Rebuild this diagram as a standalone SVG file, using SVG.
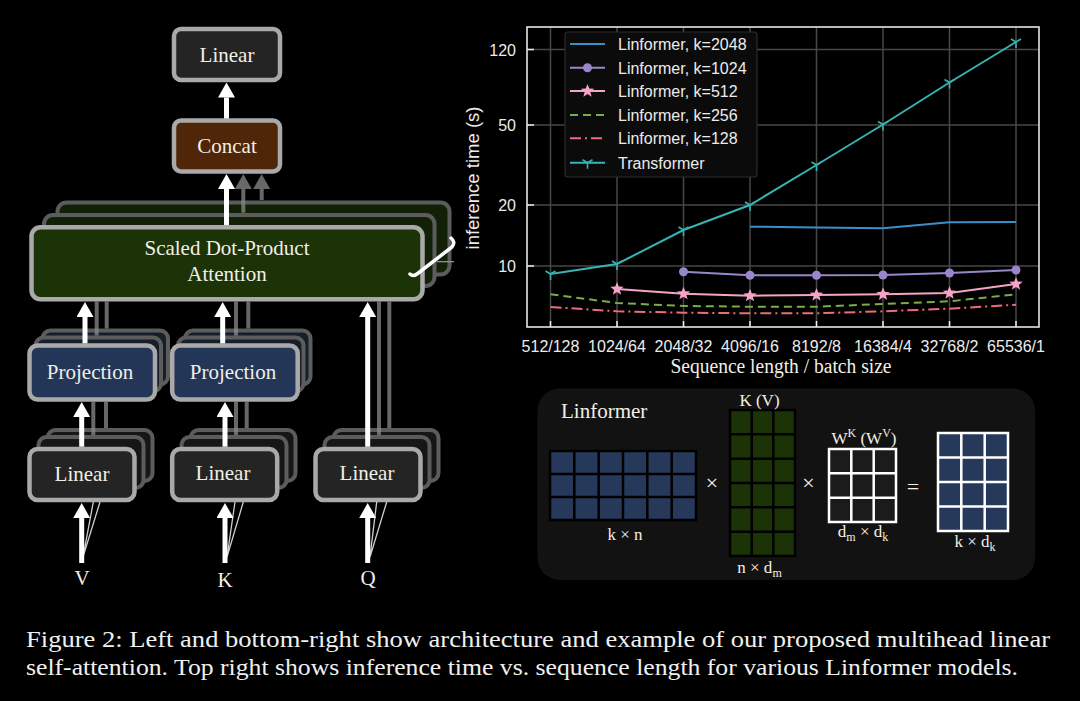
<svg xmlns="http://www.w3.org/2000/svg" xmlns:xlink="http://www.w3.org/1999/xlink" width="1080" height="701" viewBox="0 0 1080 701">
<defs>
<style>
.lbl{font-family:"Liberation Serif","Times New Roman",serif;font-size:21px;fill:#f2efe6;text-anchor:middle}
.serif{font-family:"Liberation Serif","Times New Roman",serif;fill:#f2efe6}
.sans{font-family:"Liberation Sans",Arial,sans-serif;fill:#ececec}
.box{stroke:#a9a9a9;stroke-width:4.5}
.back{stroke:#5c5c5c;stroke-width:4}
.lin{fill:#242424}
.linb{fill:#161616}
.proj{fill:#243657}
.projb{fill:#161e2c}
.att{fill:#1b3307}
.attb{fill:#112006}
.wa{stroke:#fff;stroke-width:5;fill:none}
.ga{stroke:#8a8a8a;stroke-width:4;fill:none;opacity:0.75}
.fan{stroke:#cfcfcf;stroke-width:1.3;fill:none}
.tick{font-family:"Liberation Sans",Arial,sans-serif;font-size:16px;fill:#ececec}
.grid{stroke:#474747;stroke-width:1.5}
.tk{stroke:#f0f0f0;stroke-width:1.5}
.d{fill:none;stroke-width:2}
.ptxt{font-family:"Liberation Serif","Times New Roman",serif;font-size:17px;fill:#f2efe6;text-anchor:middle}
.op{font-family:"Liberation Serif","Times New Roman",serif;font-size:22px;fill:#f2efe6;text-anchor:middle}
.cap{font-family:"Liberation Serif","Times New Roman",serif;font-size:23.5px;fill:#f0f0f0}
</style>
<marker id="ah" viewBox="0 0 15 17" refX="0" refY="8.5" markerWidth="15" markerHeight="17" markerUnits="userSpaceOnUse" orient="auto"><path d="M0,0 L15,8.5 L0,17 Z" fill="#fff"/></marker>
<marker id="ahg" viewBox="0 0 15 17" refX="0" refY="8.5" markerWidth="15" markerHeight="17" markerUnits="userSpaceOnUse" orient="auto"><path d="M0,0 L15,8.5 L0,17 Z" fill="#8a8a8a"/></marker>
<path id="star" d="M0,-7 L1.763,-2.427 L6.657,-2.163 L2.853,0.927 L4.114,5.663 L0,3 L-4.114,5.663 L-2.853,0.927 L-6.657,-2.163 L-1.763,-2.427 Z" fill="#f5a3c7"/>
<path id="tri" d="M0,0 V6 M0,0 L-5,-3 M0,0 L5,-3" stroke="#36b3b3" stroke-width="1.6" fill="none"/>
</defs>
<rect width="1080" height="701" fill="#000"/>

<!-- Left architecture nodes -->
<g id="node-linear-top">
<rect class="box lin" x="174" y="29" width="106" height="51" rx="7"/>
<text class="lbl" x="227" y="62">Linear</text>
</g>
<g id="node-concat">
<rect class="box" fill="#4f2608" x="174" y="120.5" width="106" height="51" rx="7"/>
<text class="lbl" x="227" y="153">Concat</text>
</g>
<g id="node-attention">
<rect class="back attb" x="57.5" y="202.5" width="392" height="72" rx="9" stroke="#4e4e4e"/>
<rect class="back attb" x="44" y="215" width="390.5" height="71" rx="9" stroke="#666"/>
<rect class="box att" x="31.5" y="227.3" width="391" height="72" rx="9"/>
<text class="lbl" x="227" y="255">Scaled Dot-Product</text>
<text class="lbl" x="227" y="281">Attention</text>
<path d="M451,238 Q456,242 452,247 L417,274 Q413,277 410,274" stroke="#fff" stroke-width="3.5" fill="none" stroke-linecap="round"/>
<line x1="437" y1="261.7" x2="454" y2="261.7" stroke="#9a9a9a" stroke-width="1.2"/>
</g>
<g id="node-proj-v">
<rect class="back projb" x="42.5" y="330.5" width="125.5" height="54" rx="8" stroke="#4e4e4e"/>
<rect class="back projb" x="35.5" y="337.5" width="125.5" height="54" rx="8" stroke="#666"/>
<rect class="box proj" x="29.5" y="345.5" width="125.5" height="54" rx="8"/>
<text class="lbl" x="90" y="378.5">Projection</text>
</g>
<g id="node-proj-k">
<rect class="back projb" x="185" y="330.5" width="125.5" height="54" rx="8" stroke="#4e4e4e"/>
<rect class="back projb" x="178" y="337.5" width="125.5" height="54" rx="8" stroke="#666"/>
<rect class="box proj" x="172.2" y="345.5" width="125.5" height="54" rx="8"/>
<text class="lbl" x="233" y="378.5">Projection</text>
</g>
<g id="node-linear-v">
<rect class="back linb" x="47.5" y="430" width="105" height="51" rx="8" stroke="#4e4e4e"/>
<rect class="back linb" x="38.5" y="437" width="105" height="51" rx="8" stroke="#666"/>
<rect class="box lin" x="29.5" y="449" width="105" height="51" rx="8"/>
<text class="lbl" x="82" y="481">Linear</text>
</g>
<g id="node-linear-k">
<rect class="back linb" x="190.5" y="430" width="105" height="51" rx="8" stroke="#4e4e4e"/>
<rect class="back linb" x="181.5" y="437" width="105" height="51" rx="8" stroke="#666"/>
<rect class="box lin" x="172.2" y="449" width="105" height="51" rx="8"/>
<text class="lbl" x="223" y="479.5">Linear</text>
</g>
<g id="node-linear-q">
<rect class="back linb" x="333.5" y="430" width="105" height="51" rx="8" stroke="#4e4e4e"/>
<rect class="back linb" x="324.5" y="437" width="105" height="51" rx="8" stroke="#666"/>
<rect class="box lin" x="315.5" y="449" width="105" height="51" rx="8"/>
<text class="lbl" x="367" y="479.5">Linear</text>
</g>
<g id="node-inputs">
<text class="lbl" x="82" y="585">V</text>
<text class="lbl" x="225" y="586.5">K</text>
<text class="lbl" x="368" y="585">Q</text>
</g>

<!-- Connectors -->
<g id="connectors">
<line class="wa" x1="226.5" y1="118.5" x2="226.5" y2="97.5" marker-end="url(#ah)"/>
<line class="wa" x1="226.5" y1="225" x2="226.5" y2="189" marker-end="url(#ah)"/>
<line class="ga" x1="243.3" y1="212.7" x2="243.3" y2="189" marker-end="url(#ahg)"/>
<line class="ga" x1="261.7" y1="200" x2="261.7" y2="189" marker-end="url(#ahg)"/>

<line class="ga" x1="96.7" y1="335.5" x2="96.7" y2="301.5"/>
<line class="ga" x1="106.7" y1="328.5" x2="106.7" y2="301.5"/>
<line class="wa" x1="85" y1="343.3" x2="85" y2="317" marker-end="url(#ah)"/>

<line class="ga" x1="236" y1="335.5" x2="236" y2="301.5"/>
<line class="ga" x1="248.3" y1="328.5" x2="248.3" y2="301.5"/>
<line class="wa" x1="222.7" y1="343.3" x2="222.7" y2="317" marker-end="url(#ah)"/>

<line class="ga" x1="379" y1="435" x2="379" y2="301.5"/>
<line class="ga" x1="389.3" y1="428" x2="389.3" y2="301.5"/>
<line class="wa" x1="367.7" y1="446.7" x2="367.7" y2="317" marker-end="url(#ah)"/>

<line class="ga" x1="93.3" y1="435" x2="93.3" y2="402"/>
<line class="ga" x1="106" y1="428" x2="106" y2="402"/>
<line class="wa" x1="81.7" y1="446.7" x2="81.7" y2="417" marker-end="url(#ah)"/>

<line class="ga" x1="236" y1="435" x2="236" y2="402"/>
<line class="ga" x1="246.7" y1="428" x2="246.7" y2="402"/>
<line class="wa" x1="225" y1="446.7" x2="225" y2="417" marker-end="url(#ah)"/>

<path class="fan" d="M83,557 L93.3,502 M83,557 L100,502"/>
<line class="wa" x1="81.7" y1="563" x2="81.7" y2="518" marker-end="url(#ah)"/>
<path class="fan" d="M227,557 L235,502 M227,557 L243.3,502"/>
<line class="wa" x1="225" y1="563" x2="225" y2="518" marker-end="url(#ah)"/>
<path class="fan" d="M370,557 L376.7,502 M370,557 L386.7,502"/>
<line class="wa" x1="367.7" y1="563" x2="367.7" y2="518" marker-end="url(#ah)"/>
</g>

<!-- Plot -->
<g id="plot">
<g id="plot-grid">
<path class="grid" d="M550.5,27V327 M617,27V327 M683.5,27V327 M750,27V327 M816.5,27V327 M883,27V327 M949.5,27V327 M1016,27V327 M527,49.5H1039 M527,125H1039 M527,205H1039 M527,266H1039"/>
<path class="tk" d="M527,49.5h7 M527,125h7 M527,205h7 M527,266h7 M550.5,327v-6 M617,327v-6 M683.5,327v-6 M750,327v-6 M816.5,327v-6 M883,327v-6 M949.5,327v-6 M1016,327v-6"/>
</g>
<g id="plot-data">
<path class="d" stroke="#3a8fc8" d="M750,226.7 L816.5,227.5 L883,228.3 L949.5,222.3 L1016,222"/>
<path class="d" stroke="#9a86cc" d="M683.5,271.7 L750,275.3 L816.5,275.3 L883,275 L949.5,273 L1016,270"/>
<g fill="#9a86cc"><circle cx="683.5" cy="271.7" r="4.5"/><circle cx="750" cy="275.3" r="4.5"/><circle cx="816.5" cy="275.3" r="4.5"/><circle cx="883" cy="275" r="4.5"/><circle cx="949.5" cy="273" r="4.5"/><circle cx="1016" cy="270" r="4.5"/></g>
<path class="d" stroke="#79ad46" stroke-dasharray="8,5" d="M550.5,294.3 L617,303 L683.5,306 L750,306.7 L816.5,306.7 L883,304 L949.5,301.3 L1016,294.3"/>
<path class="d" stroke="#ef6b7b" stroke-dasharray="11,4,2,4" d="M550.5,307 L617,311.3 L683.5,312.7 L750,313.3 L816.5,313.3 L883,311.3 L949.5,308.7 L1016,304.7"/>
<path class="d" stroke="#f5a3c7" d="M617,289 L683.5,293.7 L750,295.7 L816.5,295 L883,294.3 L949.5,293 L1016,284"/>
<use href="#star" x="617" y="289"/><use href="#star" x="683.5" y="293.7"/><use href="#star" x="750" y="295.7"/><use href="#star" x="816.5" y="295"/><use href="#star" x="883" y="294.3"/><use href="#star" x="949.5" y="293"/><use href="#star" x="1016" y="284"/>
<path class="d" stroke="#36b3b3" d="M550.5,274 L617,264 L683.5,230 L750,205 L816.5,165 L883,124.5 L949.5,82.5 L1016,42"/>
<use href="#tri" x="550.5" y="274"/><use href="#tri" x="617" y="264"/><use href="#tri" x="683.5" y="230"/><use href="#tri" x="750" y="205"/><use href="#tri" x="816.5" y="165"/><use href="#tri" x="883" y="124.5"/><use href="#tri" x="949.5" y="82.5"/><use href="#tri" x="1016" y="42"/>
</g>
<rect x="527" y="27" width="512" height="300" fill="none" stroke="#e6e6e6" stroke-width="1.6"/>
<g id="plot-ticks" class="tick">
<text x="516" y="55.5" text-anchor="end">120</text>
<text x="516" y="131" text-anchor="end">50</text>
<text x="516" y="211" text-anchor="end">20</text>
<text x="516" y="272" text-anchor="end">10</text>
<g text-anchor="middle">
<text x="550.5" y="351.5">512/128</text>
<text x="617" y="351.5">1024/64</text>
<text x="683.5" y="351.5">2048/32</text>
<text x="750" y="351.5">4096/16</text>
<text x="816.5" y="351.5">8192/8</text>
<text x="883" y="351.5">16384/4</text>
<text x="949.5" y="351.5">32768/2</text>
<text x="1016" y="351.5">65536/1</text>
</g>
</g>
<text class="sans" transform="translate(479,178) rotate(-90)" text-anchor="middle" font-size="18.5">inference time (s)</text>
<text class="serif" x="781" y="373" text-anchor="middle" font-size="20" textLength="221" lengthAdjust="spacingAndGlyphs">Sequence length / batch size</text>
<g id="legend">
<rect x="565" y="32" width="192" height="145" rx="3" fill="#0b0b0b" stroke="#2c2c2c" stroke-width="1.2"/>
<line x1="570" y1="44" x2="605" y2="44" stroke="#3a8fc8" stroke-width="2"/>
<line x1="570" y1="67.7" x2="605" y2="67.7" stroke="#9a86cc" stroke-width="2"/><circle cx="587.5" cy="67.7" r="4.5" fill="#9a86cc"/>
<line x1="570" y1="91" x2="605" y2="91" stroke="#f5a3c7" stroke-width="2"/><use href="#star" x="587.5" y="91"/>
<line x1="570" y1="115" x2="605" y2="115" stroke="#79ad46" stroke-width="2" stroke-dasharray="8,5"/>
<line x1="570" y1="138.3" x2="605" y2="138.3" stroke="#ef6b7b" stroke-width="2" stroke-dasharray="11,4,2,4"/>
<line x1="570" y1="162.7" x2="605" y2="162.7" stroke="#36b3b3" stroke-width="2"/><use href="#tri" x="587.5" y="162.7"/>
<g class="tick">
<text x="618" y="50">Linformer, k=2048</text>
<text x="618" y="73.7">Linformer, k=1024</text>
<text x="618" y="97">Linformer, k=512</text>
<text x="618" y="121">Linformer, k=256</text>
<text x="618" y="144.3">Linformer, k=128</text>
<text x="618" y="168.7">Transformer</text>
</g>
</g>
</g>

<!-- Linformer example panel -->
<g id="linformer-panel">
<rect x="537.5" y="388.5" width="497.5" height="191.5" rx="22" fill="#121212"/>
<text class="serif" x="561" y="417.5" font-size="21">Linformer</text>
<g id="mat-kn">
<rect x="550" y="451" width="146" height="69" fill="#26395a" stroke="#000" stroke-width="2.5"/>
<path d="M574.3,451V520 M598.7,451V520 M623,451V520 M647.3,451V520 M671.7,451V520 M550,474H696 M550,497H696" stroke="#000" stroke-width="2.5"/>
<text class="ptxt" x="625" y="540">k × n</text>
</g>
<text class="op" x="712" y="490">×</text>
<g id="mat-kv">
<rect x="730" y="410" width="65" height="146" fill="#1c3308" stroke="#000" stroke-width="2.5"/>
<path d="M751.7,410V556 M773.3,410V556 M730,434.3H795 M730,458.7H795 M730,483H795 M730,507.3H795 M730,531.7H795" stroke="#000" stroke-width="2.5"/>
<text class="ptxt" x="759.5" y="405.5">K (V)</text>
<text class="ptxt" x="759.5" y="573">n × d<tspan font-size="12" dy="4">m</tspan></text>
</g>
<text class="op" x="808.5" y="490">×</text>
<g id="mat-w">
<rect x="829" y="449" width="67" height="73" fill="#1b1b1b" stroke="#fff" stroke-width="2.5"/>
<path d="M851.3,449V522 M873.7,449V522 M829,473.3H896 M829,497.7H896" stroke="#fff" stroke-width="2.5"/>
<text class="ptxt" x="864" y="443.5">W<tspan font-size="12" dy="-7">K</tspan><tspan dy="7"> (W</tspan><tspan font-size="12" dy="-7">V</tspan><tspan dy="7">)</tspan></text>
<text class="ptxt" x="863" y="536.5">d<tspan font-size="12" dy="4">m</tspan><tspan dy="-4"> × d</tspan><tspan font-size="12" dy="4">k</tspan></text>
</g>
<text class="op" x="913" y="494">=</text>
<g id="mat-out">
<rect x="938" y="433" width="70" height="98" fill="#26395a" stroke="#fff" stroke-width="2.5"/>
<path d="M961.3,433V531 M984.7,433V531 M938,457.5H1008 M938,482H1008 M938,506.5H1008" stroke="#fff" stroke-width="2.5"/>
<text class="ptxt" x="975" y="546.5">k × d<tspan font-size="12" dy="4">k</tspan></text>
</g>
</g>

<!-- Caption -->
<g id="caption" class="cap">
<text x="26" y="647" textLength="1024" lengthAdjust="spacingAndGlyphs">Figure 2: Left and bottom-right show architecture and example of our proposed multihead linear</text>
<text x="26" y="675" textLength="992" lengthAdjust="spacingAndGlyphs">self-attention. Top right shows inference time vs. sequence length for various Linformer models.</text>
</g>
</svg>
